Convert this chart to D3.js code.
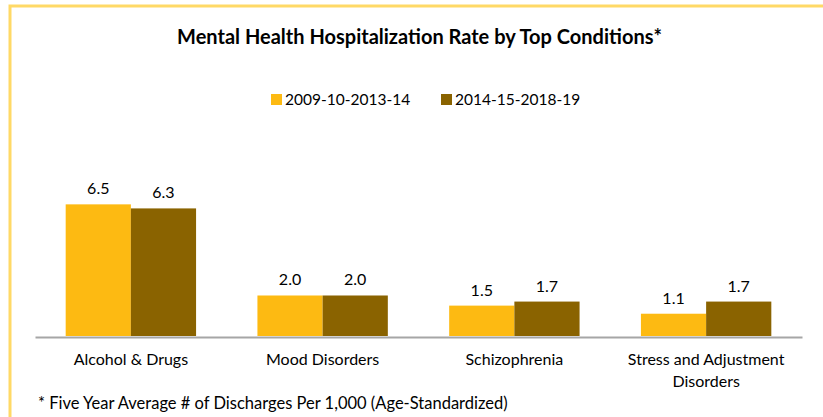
<!DOCTYPE html>
<html>
<head>
<meta charset="utf-8">
<script src="https://cdn.jsdelivr.net/npm/d3@7"></script>
<style>
  body { margin: 0; background: #fff; }
  svg { display: block; font-family: Lato, "Noto Sans", sans-serif; }
</style>
</head>
<body>
<div id="chart"></div>
<script>
const categories = ["Alcohol & Drugs", "Mood Disorders", "Schizophrenia", "Stress and Adjustment Disorders"];
const seriesNames = ["2009-10-2013-14", "2014-15-2018-19"];
const earlier = [6.5, 2.0, 1.5, 1.1];
const later = [6.3, 2.0, 1.7, 1.7];
const catLines = [["Alcohol & Drugs"], ["Mood Disorders"], ["Schizophrenia"], ["Stress and Adjustment", "Disorders"]];

const width = 823,
    height = 417,
    margin = ({ top: 176, right: 21, bottom: 81, left: 35 });

const colors = d3.scaleOrdinal().domain(seriesNames).range(["#FDBA12", "#8A6300"]);

const data = categories.map((c, i) => ({ cat: c, values: [earlier[i], later[i]] }));

const svg = d3.select("#chart")
    .append("svg")
    .attr("width", width)
    .attr("height", height)
    .attr("viewBox", [0, 0, width, height]);

// frame (top and left edges only)
svg.append("path")
    .attr("d", `M10,${height} V6 H${width}`)
    .attr("fill", "none")
    .attr("stroke", "#FFD966")
    .attr("stroke-width", 3);

let x0 = d3.scaleBand()
    .domain(categories)
    .range([margin.left, width - margin.right])
    .paddingInner(0.32)
    .paddingOuter(0.16);

let x1 = d3.scaleBand()
    .domain(seriesNames)
    .range([0, x0.bandwidth()]);

let y = d3.scaleLinear()
    .domain([0, 7.9])
    .range([height - margin.bottom, margin.top]);

const groups = svg.append("g")
    .attr("class", "plot")
    .selectAll("g")
    .data(data)
    .join("g")
    .attr("transform", d => `translate(${x0(d.cat)},0)`);

groups.selectAll("rect")
    .data(d => d.values.map((v, i) => ({ key: seriesNames[i], value: v })))
    .join("rect")
    .attr("x", d => x1(d.key))
    .attr("y", d => y(d.value))
    .attr("width", x1.bandwidth())
    .attr("height", d => y(0) - y(d.value))
    .attr("fill", d => colors(d.key));

groups.selectAll("text")
    .data(d => d.values.map((v, i) => ({ key: seriesNames[i], value: v })))
    .join("text")
    .attr("x", d => x1(d.key) + x1.bandwidth() / 2)
    .attr("y", d => y(d.value) - 10)
    .attr("text-anchor", "middle")
    .style("font-size", "16px")
    .attr("fill", "#000")
    .text(d => d3.format(".1f")(d.value));

// baseline axis
svg.append("g")
    .attr("transform", `translate(0,${y(0) + 1})`)
    .attr("class", "x-axis")
    .call(d3.axisBottom(x0).tickSize(0).tickFormat(""))
    .call(g => g.select(".domain").attr("stroke", "#A6A6A6").attr("stroke-width", 2));

svg.append("g")
    .attr("class", "x-labels")
    .selectAll("text")
    .data(categories)
    .join("text")
    .attr("x", d => x0(d) + x0.bandwidth() / 2)
    .attr("y", y(0) + 29)
    .attr("text-anchor", "middle")
    .style("font-size", "16px")
    .selectAll("tspan")
    .data((d, i) => catLines[i])
    .join("tspan")
    .attr("x", function() { return this.parentNode.getAttribute("x"); })
    .attr("dy", (d, i) => i === 0 ? 0 : 22)
    .text(d => d);

svg.append("text")
    .attr("x", width / 2 + 8)
    .attr("y", 44)
    .attr("text-anchor", "middle")
    .style("font-size", "20px")
    .style("font-weight", "bold")
    .text("Mental Health Hospitalization Rate by Top Conditions*");

// legend
const legend = svg.append("g")
    .attr("class", "legend")
    .selectAll("g")
    .data(seriesNames)
    .join("g")
    .attr("transform", (d, i) => `translate(${271 + i * 170},94)`);

legend.append("rect")
    .attr("width", 11)
    .attr("height", 11)
    .attr("fill", d => colors(d));

legend.append("text")
    .attr("x", 14)
    .attr("y", 11)
    .style("font-size", "15.5px")
    .text(d => d);

svg.append("text")
    .attr("x", 38)
    .attr("y", 409)
    .style("font-size", "16.5px")
    .text("* Five Year Average # of Discharges Per 1,000 (Age-Standardized)");
</script>
</body>
</html>
